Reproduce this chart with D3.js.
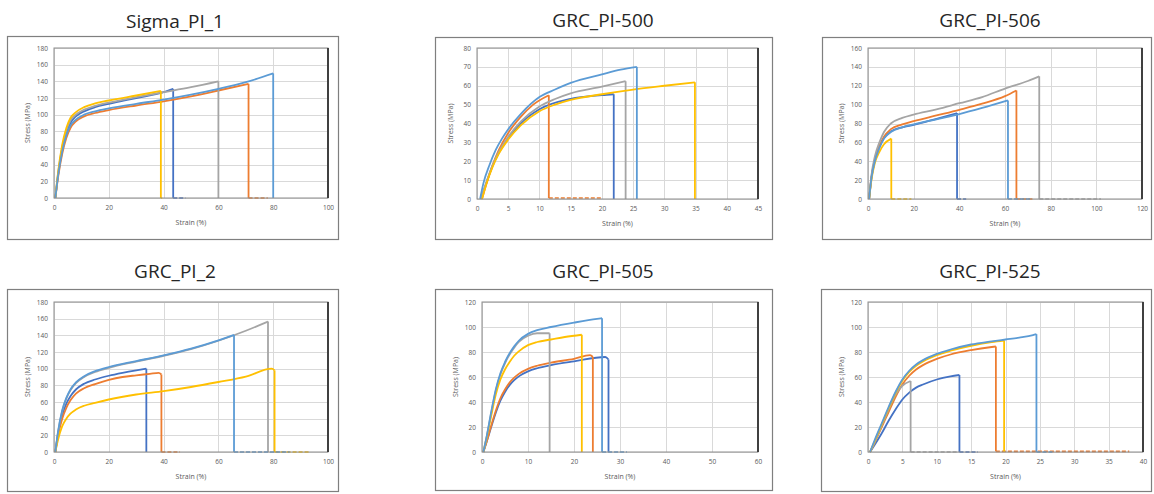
<!DOCTYPE html>
<html>
<head>
<meta charset="utf-8">
<script src="https://cdn.jsdelivr.net/npm/d3@7"></script>
<style>
  body { margin: 0; background: #fff; }
  .tick text { font-family: "Open Sans", "Noto Sans", sans-serif; font-size: 6.5px; fill: #595959; }
  .axis-title { font-family: "Open Sans", "Noto Sans", sans-serif; font-size: 7px; fill: #595959; }
  .title { font-family: "Open Sans", "Noto Sans", sans-serif; font-size: 19px; fill: #262626; }
</style>
</head>
<body>
<div class="holder"></div>
<script>
let width = 1154,
    height = 494;

// series order in every test: blue, orange, gray, yellow, light blue
const colors = ["#4472C4", "#ED7D31", "#A5A5A5", "#FFC000", "#5B9BD5"];

const titles = ["Sigma_PI_1", "GRC_PI-500", "GRC_PI-506", "GRC_PI_2", "GRC_PI-505", "GRC_PI-525"];
const xMaxes = [100, 45, 120, 100, 60, 40];
const xSteps = [20, 5, 20, 20, 10, 5];
const yMaxes = [180, 80, 160, 180, 120, 120];
const ySteps = [20, 10, 20, 20, 20, 20];

// [strain %, stress MPa]; a repeated strain marks the break, then the zero tail
const sigmaPI1 = [
  [[0.5,0],[1.5,28],[3,58],[4.5,78],[6,90],[8,98],[11,104],[15,109],[20,113],[30,120],[40,127],[43.5,131],[43.5,0],[48,0]],
  [[0.5,0],[1.5,25],[3,53],[4.5,72],[6,84],[8,92],[11,98],[15,102],[20,105.5],[30,111],[40,116],[50,122],[60,129],[71,137],[71,0],[78,0]],
  [[0.5,0],[1.5,30],[3,61],[4.5,81],[6,93],[8,100],[11,106],[15,110.5],[20,114.5],[30,121],[40,127],[50,133],[60,140],[60,0]],
  [[0.5,0],[1.5,31],[3,64],[4.5,84],[6,96],[8,103],[11,109],[15,113.5],[20,117],[30,123],[39,128.5],[39,0],[39.5,0]],
  [[0.5,0],[1.5,27],[3,56],[4.5,75],[6,87],[8,94],[11,100],[15,104],[20,107.5],[30,113],[40,118],[50,124],[60,131],[70,139],[80,149.5],[80,0]]
];
const grcPI500 = [
  [[0.6,0],[1.5,8.5],[2.5,17.5],[3.5,24.5],[5,32],[7,40],[10,47.5],[15,53],[20,55],[21.9,55.5],[21.9,0]],
  [[0.8,0],[1.5,8],[2.5,18],[3.5,26],[5,35],[7,43.5],[9,50],[11.5,55],[11.5,0.5],[20,0.5]],
  [[0.6,0],[1.5,9],[2.5,18],[3.5,25],[5,33],[7,41],[10,49],[12.5,53],[15,56],[20,59.5],[23.8,62.4],[23.8,0]],
  [[0.8,0],[1.5,8],[2.5,17],[3.5,24],[5,31.5],[7,39],[10,46.5],[12.5,50],[15,52.5],[20,55.5],[25,58],[30,60],[34.9,61.8],[34.9,0]],
  [[0.5,0],[1,8],[2,18],[3,26],[4,32],[5,37],[7,45],[10,54],[12.5,58],[15,61.5],[20,66],[23,68.5],[25.6,70],[25.6,0]]
];
const grcPI506 = [
  [[0.5,0],[1.5,22],[3,41],[5,55],[7,64.5],[10,71.5],[15,76],[20,78.5],[30,85],[39,91],[39,0],[43,0]],
  [[0.5,0],[1.5,23],[3,42],[5,56],[7,66],[10,74],[15,79],[20,82.5],[30,88.5],[40,94.5],[50,101],[60,109],[65,115],[65,0],[72,0]],
  [[0.5,0],[1.5,25],[3,45],[5,60],[7,71],[10,80],[15,86],[20,89.5],[30,95],[40,101.5],[50,108],[60,117],[70,125],[75,130],[75,0],[102,0]],
  [[0.5,0],[1.5,20],[3,38],[5,50],[7,58],[10.2,64],[10.2,0],[19,0]],
  [[0.5,0],[1.5,22],[3,40],[5,54],[7,64],[10,71],[15,76],[20,79],[30,84.5],[40,90],[50,96.5],[61.3,104.5],[61.3,0],[71,0]]
];
const grcPI2 = [
  [[0.5,0],[1.5,22],[3,44],[4.5,58],[6,67],[8,75],[11,82],[15,87],[20,91.5],[25,95],[30,98],[33.7,100],[33.7,0]],
  [[0.5,0],[1.5,20],[3,40],[4.5,53],[6,62],[8,70],[11,76.5],[15,81.5],[20,86.5],[25,90],[30,92],[35,93.8],[38.2,95],[39.2,93],[39.2,0],[46,0]],
  [[0.5,0],[1.5,24],[3,49],[4.5,64],[6,74],[8,82.5],[11,90],[15,96],[20,101],[30,108.5],[40,115.5],[50,123.5],[60,133.5],[70,145.5],[78.1,156.5],[78.1,0]],
  [[0.5,0],[1.5,15],[3,31],[4.5,40],[6,46],[8,51],[11,55.5],[15,59],[20,63],[30,69],[40,73],[50,78],[60,84],[70,90.5],[79.5,100],[80.5,98],[80.5,0],[93,0]],
  [[0.5,0],[1.5,25],[3,50],[4.5,65],[6,75],[8,83.5],[11,91],[15,97],[20,102],[30,109],[40,116],[50,124],[60,134],[65.7,140.5],[65.7,0],[86,0]]
];
const grcPI505 = [
  [[0.3,0],[1,8],[2,20],[3,31.5],[4,41],[5,48],[6,53.5],[7,57.5],[8,60.5],[10,64.5],[12,67],[15,69.5],[20,72.5],[26.8,76],[27.5,74],[27.5,0]],
  [[0.3,0],[1,8],[2,21],[3,33],[4,43],[5,50],[6,55.5],[7,59.5],[8,62.5],[10,66.5],[12,69],[15,71.5],[20,74.5],[23.5,77.5],[24.1,76],[24.1,0]],
  [[0.3,0],[1,12],[2,31],[3,49],[4,62],[5,71],[6,78],[7,83.5],[8,88],[10,93],[12,95],[14.7,95],[14.7,0]],
  [[0.3,0],[1,11],[2,29],[3,46],[4,58],[5,66],[6,72],[7,77],[8,80.5],[10,85.5],[12,88],[15,90],[18,92],[21.7,93.8],[21.7,0]],
  [[0.3,0],[1,12],[2,32],[3,50],[4,63],[5,72],[6,79],[7,84.5],[8,89],[10,94.5],[12,97.5],[15,100],[20,103.5],[25,106.5],[26.1,107],[26.1,0],[31.5,0]]
];
const grcPI525 = [
  [[0.3,0],[1,6],[2,15],[3,25],[4,34],[5,42],[6,47.5],[7,51.5],[8,54],[10,58],[12,60.5],[13.3,61.6],[13.3,0],[16,0]],
  [[0.3,0],[1,8],[2,20],[3,32],[4,44],[5,54],[6,61],[7,66],[8,69.5],[10,74.5],[12,78],[15,81.5],[18,84],[18.6,84.4],[18.6,0.5],[38,0.5]],
  [[0.3,0],[1,8],[2,21],[3,34],[4,46],[5,53],[6.2,56.8],[6.2,0],[13,0]],
  [[0.3,0],[1,9],[2,22],[3,35],[4,47],[5,57],[6,64],[7,69],[8,72.5],[10,77.5],[12,81],[15,85],[18,88],[19.8,89.2],[19.8,0]],
  [[0.3,0],[1,10],[2,23],[3,36],[4,48],[5,58],[6,65],[7,70],[8,73.5],[10,78.5],[12,82],[15,86],[18,88.5],[20,90],[22,91.5],[24,93.5],[24.5,94.3],[24.5,0],[27,0]]
];
const allData = [sigmaPI1, grcPI500, grcPI506, grcPI2, grcPI505, grcPI525];

// page layout of each chart box: outer frame, plot area, title centre
const boxes = [
  {bx: 7,   by: 36,  bw: 331, bh: 203, px: 54,  py: 48,  pw: 274, ph: 150, tx: 175, ty: 28},
  {bx: 435, by: 37,  bw: 337, bh: 202, px: 477, py: 48,  pw: 281, ph: 151, tx: 603, ty: 27},
  {bx: 822, by: 37,  bw: 329, bh: 202, px: 868, py: 48,  pw: 274, ph: 151, tx: 990, ty: 27},
  {bx: 7,   by: 289, bw: 331, bh: 202, px: 54,  py: 302, pw: 274, ph: 150, tx: 175, ty: 278},
  {bx: 435, by: 289, bw: 337, bh: 201, px: 482, py: 302, pw: 276, ph: 150, tx: 603, ty: 278},
  {bx: 821, by: 289, bw: 330, bh: 202, px: 868, py: 302, pw: 275, ph: 150, tx: 990, ty: 278}
];

var svg = d3.select(".holder")
    .append("svg")
    .attr("width", width)
    .attr("height", height);

allData.forEach(function (series, p) {
    var b = boxes[p];

    svg.append("text")
        .attr("class", "title")
        .attr("x", b.tx)
        .attr("y", b.ty)
        .attr("text-anchor", "middle")
        .text(titles[p]);

    svg.append("rect")
        .attr("x", b.bx + 0.5)
        .attr("y", b.by + 0.5)
        .attr("width", b.bw)
        .attr("height", b.bh)
        .attr("fill", "none")
        .attr("stroke", "#7f7f7f")
        .attr("stroke-width", 1.2);

    var g = svg.append("g")
        .attr("transform", `translate(${b.px},${b.py})`);

    var x = d3.scaleLinear().domain([0, xMaxes[p]]).range([0, b.pw]);
    var y = d3.scaleLinear().domain([0, yMaxes[p]]).range([b.ph, 0]);

    var xTicks = d3.range(0, xMaxes[p] + 0.001, xSteps[p]);
    var yTicks = d3.range(0, yMaxes[p] + 0.001, ySteps[p]);

    // gridlines
    g.append("g")
        .selectAll("line")
        .data(yTicks)
        .enter()
        .append("line")
        .attr("x1", 0)
        .attr("x2", b.pw)
        .attr("y1", d => Math.round(y(d)) + 0.5)
        .attr("y2", d => Math.round(y(d)) + 0.5)
        .attr("stroke", "#d9d9d9");
    g.append("g")
        .selectAll("line")
        .data(xTicks)
        .enter()
        .append("line")
        .attr("y1", 0)
        .attr("y2", b.ph)
        .attr("x1", d => Math.round(x(d)) + 0.5)
        .attr("x2", d => Math.round(x(d)) + 0.5)
        .attr("stroke", "#d9d9d9");

    var xAxis = g.append("g")
        .attr("transform", `translate(0,${b.ph})`)
        .call(d3.axisBottom(x).tickValues(xTicks).tickSize(0).tickPadding(7));
    xAxis.select(".domain").remove();

    var yAxis = g.append("g")
        .call(d3.axisLeft(y).tickValues(yTicks).tickSize(0).tickPadding(6));
    yAxis.select(".domain").remove();

    g.append("text")
        .attr("class", "axis-title")
        .attr("x", b.pw / 2)
        .attr("y", b.ph + 27)
        .attr("text-anchor", "middle")
        .text("Strain (%)");
    g.append("text")
        .attr("class", "axis-title")
        .attr("transform", "rotate(-90)")
        .attr("x", -b.ph / 2)
        .attr("y", -24)
        .attr("text-anchor", "middle")
        .text("Stress (MPa)");

    var curve = d3.line()
        .x(d => x(d[0]))
        .y(d => y(d[1]))
        .curve(d3.curveMonotoneX);
    var straight = d3.line()
        .x(d => x(d[0]))
        .y(d => y(d[1]));

    series.forEach(function (pts, i) {
        var brk = pts.findIndex((d, k) => k > 0 && d[0] === pts[k - 1][0]);
        var rise = pts.slice(0, brk);
        var drop = pts.slice(brk - 1, brk + 1);
        var tail = pts.slice(brk);

        g.append("path")
            .attr("d", curve(rise))
            .attr("fill", "none")
            .attr("stroke", colors[i])
            .attr("stroke-width", 1.8)
            .attr("stroke-linejoin", "round");
        g.append("path")
            .attr("d", straight(drop))
            .attr("fill", "none")
            .attr("stroke", colors[i])
            .attr("stroke-width", 1.8);
        if (tail.length > 1) {
            g.append("path")
                .attr("d", straight(tail))
                .attr("fill", "none")
                .attr("stroke", colors[i])
                .attr("stroke-width", 1.6)
                .attr("stroke-dasharray", "4,2");
        }
    });

    // plot area border, darker on the right like the source
    g.append("rect")
        .attr("x", 0)
        .attr("y", 0)
        .attr("width", b.pw)
        .attr("height", b.ph)
        .attr("fill", "none")
        .attr("stroke", "#8c8c8c")
        .attr("stroke-width", 1);
    g.append("line")
        .attr("x1", b.pw)
        .attr("x2", b.pw)
        .attr("y1", 0)
        .attr("y2", b.ph)
        .attr("stroke", "#404040")
        .attr("stroke-width", 2);
});
</script>
</body>
</html>
